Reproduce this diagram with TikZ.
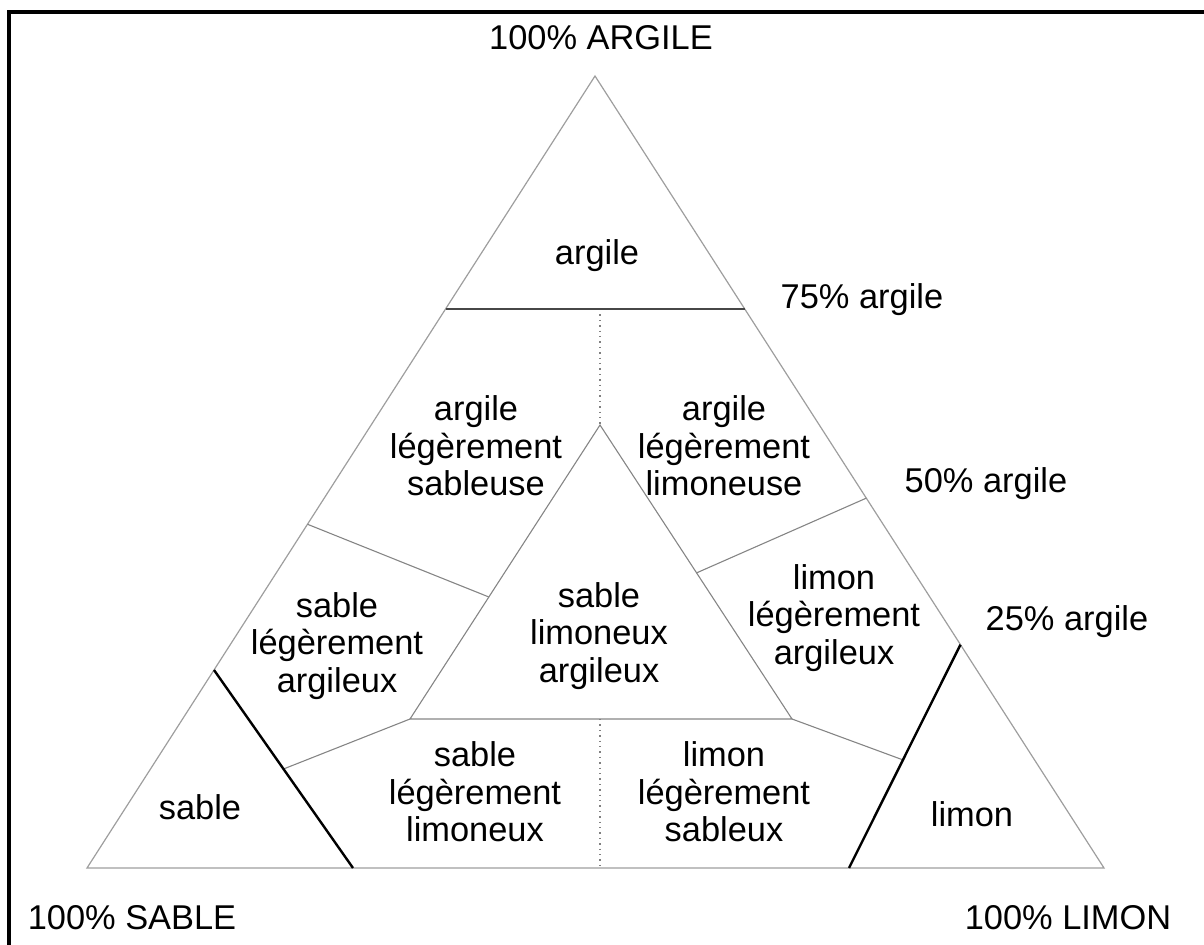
\documentclass[tikz,border=0pt]{standalone}
\usepackage{fontspec}
\setmainfont{Liberation Sans}
\usetikzlibrary{calc}
\begin{document}
\begin{tikzpicture}[x=0.5pt,y=-0.5pt,
  edge/.style={draw=black!38, line width=0.6pt},
  part/.style={draw=black!48, line width=0.55pt},
  bound/.style={draw=black!72, line width=1pt},
  dots/.style={draw=black!50, line width=0.7pt, dotted},
  heavy/.style={draw=black, line width=1.2pt},
  frame/.style={draw=black, line width=2pt},
  lab/.style={font=\fontsize{17.2}{18.75}\selectfont, align=center, inner sep=0pt},
  one/.style={lab, text height=12.6pt, text depth=3.6pt},
]
\useasboundingbox (0,0) rectangle (1204,945);

% page frame (top and left rules)
\coordinate (f0) at (9,945);
\coordinate (f1) at (9,12);
\coordinate (f2) at (1204,12);
\draw[frame] (f0) -- (f1) -- (f2);

% corners of the texture triangle
\coordinate (A) at (595,76);
\coordinate (B) at (87,868);
\coordinate (C) at (1104,868);

% 75 % clay boundary
\coordinate (hl) at ($(A)!0.294!(B)$);
\coordinate (hr) at ($(A)!0.294!(C)$);
\coordinate (hm) at (600,309);

% central triangle
\coordinate (I) at (600,425);
\coordinate (IL) at (410,719);
\coordinate (IR) at (792,719);
\coordinate (bm) at (600,868);

% sand and silt corner boundaries
\coordinate (sT) at ($(A)!0.75!(B)$);
\coordinate (sB) at (353,868);
\coordinate (lT) at ($(A)!0.718!(C)$);
\coordinate (lB) at (849,868);

% secondary partitions
\coordinate (pL) at ($(A)!0.566!(B)$);
\coordinate (qL) at ($(I)!0.585!(IL)$);
\coordinate (pR) at ($(A)!0.533!(C)$);
\coordinate (qR) at ($(I)!0.503!(IR)$);
\coordinate (sM) at ($(sT)!0.5!(sB)$);
\coordinate (lM) at ($(lT)!0.516!(lB)$);

\draw[edge] (A) -- (B) -- (C) -- cycle;
\draw[part] (I) -- (IL) -- (IR) -- cycle;
\draw[part] (pL) -- (qL);
\draw[part] (pR) -- (qR);
\draw[part] (IL) -- (sM);
\draw[part] (IR) -- (lM);
\draw[dots] (hm) -- (I);
\draw[dots] (IL -| bm) -- (bm);
\draw[bound] (hl) -- (hr);
\draw[heavy] (sT) -- (sB);
\draw[heavy] (lT) -- (lB);

% corner and level labels
\node[one] (tA) at (601,41) {100\% ARGILE};
\node[one] (tB) at (132,920) {100\% SABLE};
\node[one] (tC) at (1068,920) {100\% LIMON};
\node[one] (l75) at (862,300) {75\% argile};
\node[one] (l50) at (986,484) {50\% argile};
\node[one] (l25) at (1067,622) {25\% argile};

% class names
\node[one] (cA) at (597,256) {argile};
\node[lab] (cALS) at (476,446) {argile\\légèrement\\sableuse};
\node[lab] (cALL) at (724,446) {argile\\légèrement\\limoneuse};
\node[lab] (cSLA) at (337,646) {sable\\légèrement\\argileux};
\node[lab] (cSLAr) at (599,636) {sable\\limoneux\\argileux};
\node[lab] (cLLA) at (834,618) {limon\\légèrement\\argileux};
\node[lab] (cSLL) at (475,792) {sable\\légèrement\\limoneux};
\node[lab] (cLLS) at (724,792) {limon\\légèrement\\sableux};
\node[one] (cS) at (200,810) {sable};
\node[one] (cL) at (972,817) {limon};
\end{tikzpicture}
\end{document}
